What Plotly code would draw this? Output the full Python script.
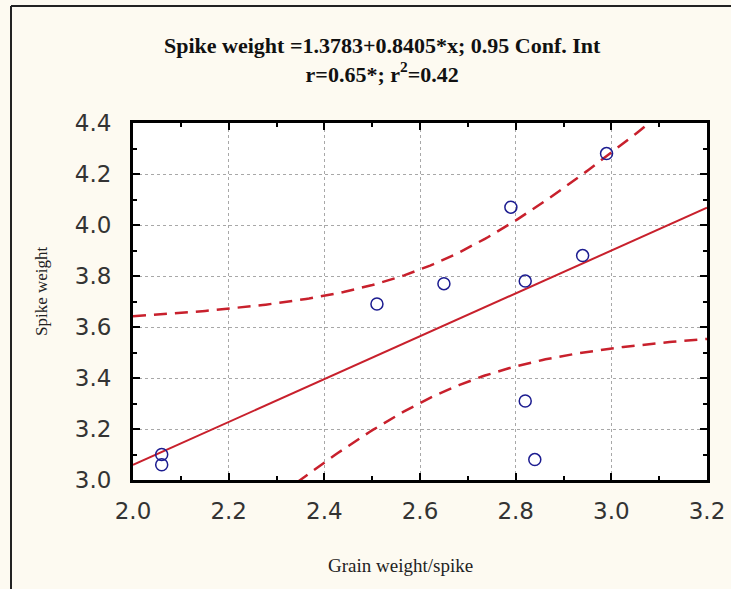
import numpy as np
import plotly.graph_objects as go

# Data
grain_weight = [2.06, 2.06, 2.51, 2.65, 2.79, 2.82, 2.94, 2.99, 2.82, 2.84]
spike_weight = [3.10, 3.06, 3.69, 3.77, 4.07, 3.78, 3.88, 4.28, 3.31, 3.08]

intercept = 1.3783
slope = 0.8405
conf_level = 0.95
t_crit = 2.306  # t(0.975, df=8)

x_ticks = [2.0, 2.2, 2.4, 2.6, 2.8, 3.0, 3.2]
y_ticks = [3.0, 3.2, 3.4, 3.6, 3.8, 4.0, 4.2, 4.4]

title_line1 = "Spike weight =1.3783+0.8405*x; 0.95 Conf. Int"
title_line2 = "r=0.65*; r<sup>2</sup>=0.42"
x_title = "Grain weight/spike"
y_title = "Spike weight"

# Regression line and confidence band from the data
xa = np.array(grain_weight)
ya = np.array(spike_weight)
n = len(xa)
resid = ya - (intercept + slope * xa)
s = np.sqrt(np.sum(resid ** 2) / (n - 2))
sxx = np.sum((xa - xa.mean()) ** 2)
xf = np.linspace(x_ticks[0], x_ticks[-1], 200)
yf = intercept + slope * xf
hw = t_crit * s * np.sqrt(1.0 / n + (xf - xa.mean()) ** 2 / sxx)

red = "#c8202c"
fig = go.Figure()
fig.add_trace(go.Scatter(x=xf, y=yf, mode="lines", line=dict(color=red, width=2), hoverinfo="skip"))
fig.add_trace(go.Scatter(x=xf, y=yf + hw, mode="lines", line=dict(color=red, width=2.5, dash="13px,8px"), hoverinfo="skip"))
fig.add_trace(go.Scatter(x=xf, y=yf - hw, mode="lines", line=dict(color=red, width=2.5, dash="13px,8px"), hoverinfo="skip"))
fig.add_trace(go.Scatter(x=grain_weight, y=spike_weight, mode="markers",
                         marker=dict(symbol="circle-open", size=12, color="#1c1c90", line=dict(width=1.5)),
                         cliponaxis=False))

axis_common = dict(
    showline=True, linecolor="black", linewidth=3, mirror="ticks",
    ticks="inside", ticklen=7, tickwidth=2, tickcolor="black",
    showgrid=True, gridcolor="#a8a8a8", griddash="dot", gridwidth=1,
    zeroline=False, automargin=False,
    tickfont=dict(family="DejaVu Sans", size=23, color="#333333"),
)

fig.update_xaxes(range=[2.0, 3.2], tickvals=x_ticks, ticktext=[f"{v:.1f}" for v in x_ticks],
                 minor=dict(ticks="inside", ticklen=4, tickwidth=2, tickcolor="black", dtick=0.1, tick0=2.0, showgrid=False),
                 ticklabelstandoff=8, **axis_common)
fig.update_yaxes(range=[3.0, 4.4], tickvals=y_ticks, ticktext=[f"{v:.1f}" for v in y_ticks],
                 minor=dict(ticks="inside", ticklen=4, tickwidth=2, tickcolor="black", dtick=0.1, tick0=3.0, showgrid=False),
                 ticklabelstandoff=14, **axis_common)

W, H = 731, 589
L, R, T, B = 133, 24, 123, 109
pw, ph = W - L - R, H - T - B


def px_x(p):
    return (p - L) / pw


def px_y(p):
    return (H - B - p) / ph


title_font = dict(family="Liberation Serif", size=22, color="#111")
annotations = [
    dict(text=f"<b>{title_line1}<br>{title_line2}</b>", x=px_x(382), y=px_y(60), xref="paper", yref="paper",
         xanchor="center", yanchor="middle", align="center", showarrow=False, font=title_font),
    dict(text=x_title, x=px_x(400), y=px_y(565), xref="paper", yref="paper",
         xanchor="center", yanchor="middle", showarrow=False,
         font=dict(family="Liberation Serif", size=19, color="#222")),
    dict(text=y_title, x=px_x(41), y=px_y(291), xref="paper", yref="paper", textangle=-90,
         xanchor="center", yanchor="middle", showarrow=False,
         font=dict(family="Liberation Serif", size=17, color="#222")),
]

frame_line = dict(color="#222", width=2)
fig.update_layout(
    width=W, height=H,
    margin=dict(l=L, r=R, t=T, b=B, autoexpand=False),
    paper_bgcolor="#fdfaf1", plot_bgcolor="white",
    showlegend=False,
    annotations=annotations,
    shapes=[
        dict(type="line", xref="paper", yref="paper", x0=px_x(11), x1=px_x(11),
             y0=px_y(H), y1=px_y(6), line=frame_line, layer="below"),
        dict(type="line", xref="paper", yref="paper", x0=px_x(11), x1=px_x(W),
             y0=px_y(6), y1=px_y(6), line=frame_line, layer="below"),
    ],
)

fig.write_html("out.html", config={"displayModeBar": False},
               post_script=("document.body.style.margin='0';document.body.style.overflow='hidden';"
                            "document.documentElement.style.overflow='hidden';"))
